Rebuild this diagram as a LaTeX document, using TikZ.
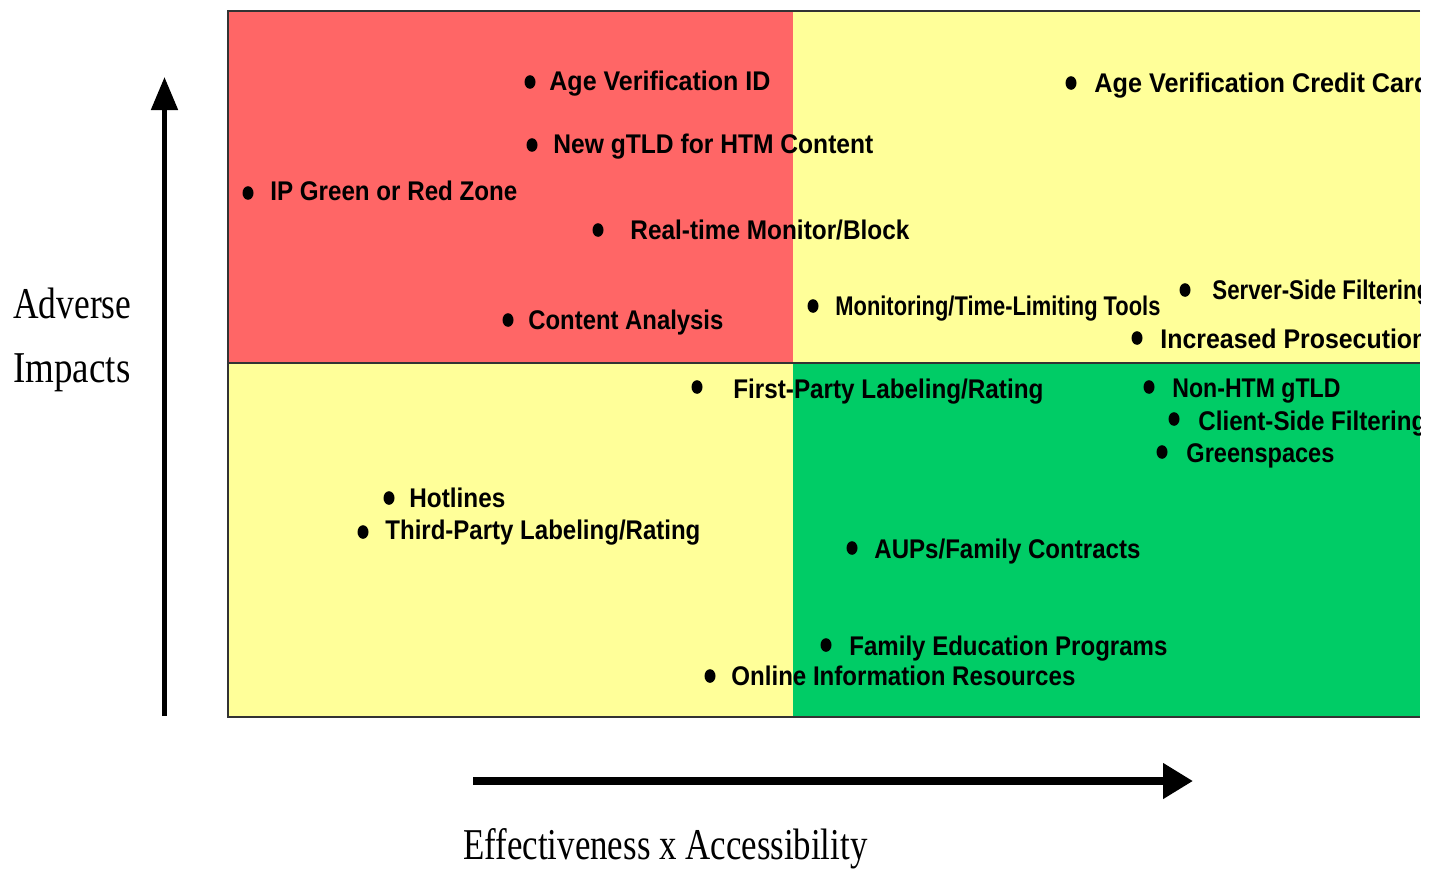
\documentclass[tikz,border=0pt]{standalone}
\usepackage{fontspec}
\usepackage{graphicx}
\setmainfont{Liberation Serif}
\newfontfamily\itemfont{Liberation Sans}
\usetikzlibrary{arrows.meta,shapes.geometric}
\definecolor{qred}{HTML}{FF6666}
\definecolor{qyellow}{HTML}{FFFF99}
\definecolor{qgreen}{HTML}{00CC66}
\newdimen\upx \upx=0.5pt
\newcommand\fitw[2]{\resizebox{#1\upx}{\height}{#2}}
\begin{document}
\begin{tikzpicture}[x=0.5pt,y=-0.5pt,
  item/.style={anchor=base west,inner sep=0pt,font=\itemfont\bfseries\fontsize{13.5pt}{15pt}\selectfont},
  bul/.style={ellipse,fill=black,inner sep=0pt,minimum width=5.5pt,minimum height=6.8pt},
  axlabel/.style={anchor=base west,inner sep=0pt,font=\fontsize{22pt}{25pt}\selectfont},
  frame/.style={draw=black!80,line width=1pt}]
\useasboundingbox (0,0) rectangle (1438,869);
\begin{scope}
\clip (0,0) rectangle (1420,869);
\fill[qred] (228,11) rectangle (793,363);
\fill[qyellow] (793,11) rectangle (1420,363);
\fill[qyellow] (228,363) rectangle (793,717);
\fill[qgreen] (793,363) rectangle (1420,717);
% items
\node[bul] (b1) at (530,82) {};
\node[item] (t1) at (549,90) {\fitw{221}{Age Verification ID}};
\node[bul] (b2) at (532,145) {};
\node[item] (t2) at (553,153) {\fitw{320}{New gTLD for HTM Content}};
\node[bul] (b3) at (248,193) {};
\node[item] (t3) at (270,200) {\fitw{247}{IP Green or Red Zone}};
\node[bul] (b4) at (598,230) {};
\node[item] (t4) at (630,239) {\fitw{279}{Real-time Monitor/Block}};
\node[bul] (b5) at (508,320) {};
\node[item] (t5) at (528,329) {\fitw{195}{Content Analysis}};
\node[bul] (b6) at (813,306) {};
\node[item] (t6) at (835,315) {\fitw{325}{Monitoring/Time-Limiting Tools}};
\node[bul] (b7) at (1071,83) {};
\node[item] (t7) at (1094,92) {\fitw{335}{Age Verification Credit Card}};
\node[bul] (b8) at (1185,290) {};
\node[item] (t8) at (1212,299) {\fitw{218}{Server-Side Filtering}};
\node[bul] (b9) at (1137,338) {};
\node[item] (t9) at (1160,348) {\fitw{267}{Increased Prosecution}};
\node[bul] (b10) at (697,387) {};
\node[item] (t10) at (733,398) {\fitw{310}{First-Party Labeling/Rating}};
\node[bul] (b11) at (1149,387) {};
\node[item] (t11) at (1172,397) {\fitw{168}{Non-HTM gTLD}};
\node[bul] (b12) at (1174,419) {};
\node[item] (t12) at (1198,430) {\fitw{228}{Client-Side Filtering}};
\node[bul] (b13) at (1162,452) {};
\node[item] (t13) at (1186,462) {\fitw{148}{Greenspaces}};
\node[bul] (b14) at (389,498) {};
\node[item] (t14) at (409,507) {\fitw{96}{Hotlines}};
\node[bul] (b15) at (363,532) {};
\node[item] (t15) at (385,539) {\fitw{315}{Third-Party Labeling/Rating}};
\node[bul] (b16) at (852,548) {};
\node[item] (t16) at (874,558) {\fitw{266}{AUPs/Family Contracts}};
\node[bul] (b17) at (826,645) {};
\node[item] (t17) at (849,655) {\fitw{318}{Family Education Programs}};
\node[bul] (b18) at (710,676) {};
\node[item] (t18) at (731,685) {\fitw{344}{Online Information Resources}};
\end{scope}
% frame lines
\draw[frame] (1420,11) -- (228,11) -- (228,717) -- (1420,717);
\draw[frame] (228,363) -- (1420,363);
% axes
\coordinate (vs) at (164.5,716);
\coordinate (ve) at (164.5,77);
\draw[line width=2.5pt,-{Triangle[length=16.5pt,width=13pt]}] (vs) -- (ve);
\coordinate (hs) at (473,781);
\coordinate (he) at (1193,781);
\draw[line width=4pt,-{Triangle[length=15pt,width=17pt]}] (hs) -- (he);
\node[axlabel] (adv) at (13,318) {\fitw{118}{Adverse}};
\node[axlabel] (imp) at (13,382) {\fitw{117}{Impacts}};
\node[axlabel] (eff) at (463,859) {\fitw{404}{Effectiveness x Accessibility}};
\end{tikzpicture}
\end{document}
